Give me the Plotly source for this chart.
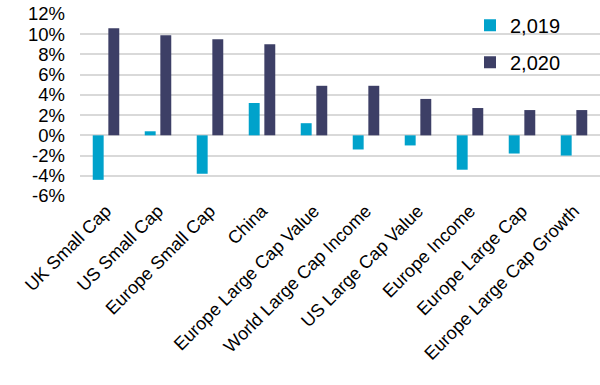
import plotly.graph_objects as go

categories = ["UK Small Cap", "US Small Cap", "Europe Small Cap", "China",
              "Europe Large Cap Value", "World Large Cap Income", "US Large Cap Value",
              "Europe Income", "Europe Large Cap", "Europe Large Cap Growth"]
vals_2019 = [-4.4, 0.4, -3.8, 3.2, 1.2, -1.4, -1.0, -3.4, -1.8, -2.0]
vals_2020 = [10.6, 9.9, 9.5, 9.0, 4.9, 4.9, 3.6, 2.7, 2.5, 2.5]
series_names = ["2,019", "2,020"]
colors = ["#00A2CB", "#3D3F66"]
y_ticks = list(range(-6, 13, 2))

fig = go.Figure()
for name, vals, col in zip(series_names, [vals_2019, vals_2020], colors):
    fig.add_trace(go.Bar(x=categories, y=vals, name=name, marker_color=col,
                         marker_line_width=0, legendgroup=name))

font = "Liberation Sans, Arial, sans-serif"
fig.update_layout(
    width=600, height=385,
    margin=dict(l=80, r=0, t=14, b=189),
    plot_bgcolor="white", paper_bgcolor="white",
    barmode="group", bargap=0.40, bargroupgap=0.30,
    font=dict(family=font, size=18, color="#000000"),
    showlegend=True,
    legend=dict(x=0.75, y=1.045, xanchor="left", yanchor="top",
                font=dict(size=20), tracegroupgap=8, bgcolor="rgba(0,0,0,0)"),
    xaxis=dict(tickangle=-45, showgrid=False, showline=False, ticks="",
               tickfont=dict(size=18)),
    yaxis=dict(range=[-6, 12], tickvals=y_ticks, ticktext=[f"{v}%" for v in y_ticks],
               showgrid=True, gridcolor="#D9D9D9", gridwidth=2,
               zeroline=True, zerolinecolor="#D9D9D9", zerolinewidth=2,
               showline=False, ticks="", ticklabelstandoff=14,
               tickfont=dict(size=18.5)),
)
fig.write_html("out.html")
